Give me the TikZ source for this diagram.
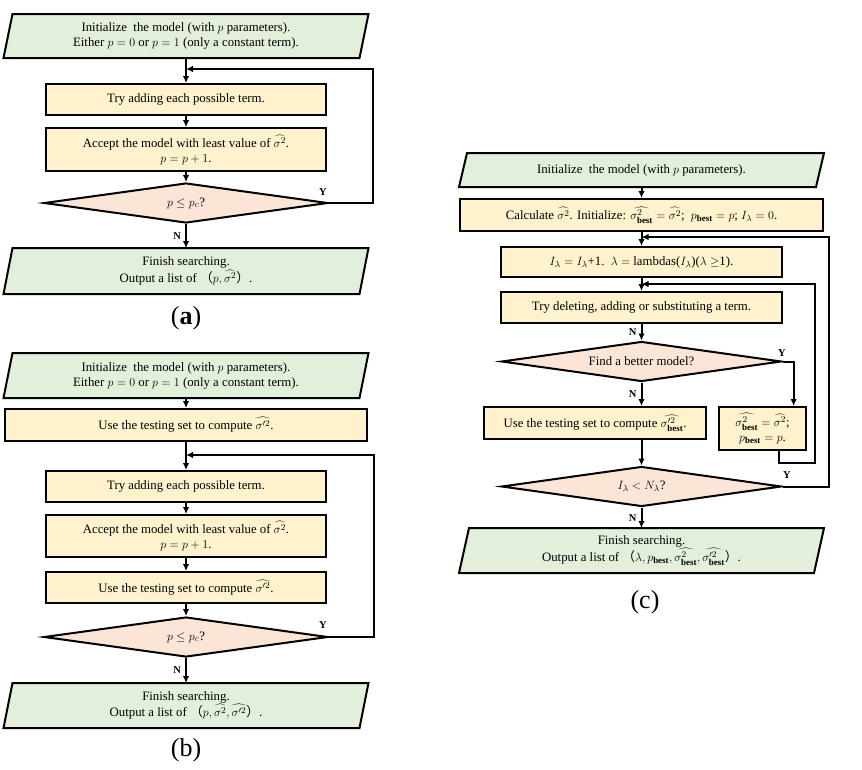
\documentclass[tikz,border=0pt]{standalone}
\usepackage{fontspec}
\setmainfont{Liberation Serif}
\newfontfamily\cjk{Noto Sans CJK SC}
\usetikzlibrary{shapes.geometric,arrows.meta,backgrounds,calc}
\definecolor{gfill}{HTML}{E2EFDA}
\definecolor{yfill}{HTML}{FFF2CC}
\definecolor{pfill}{HTML}{FBE5D6}
\newcommand\boxfont{\fontsize{12.8}{15}\selectfont}
\newcommand\pgram[2]{\begin{scope}[on background layer]\draw[fill=gfill,line width=2pt] ([xshift=#2]#1.north west) -- (#1.north east) -- ([xshift=-#2]#1.south east) -- (#1.south west) -- cycle;\end{scope}}
\newcommand\bst{_{\mathbf{best}}}
\begin{document}
\begin{tikzpicture}[x=1pt,y=-1pt,line width=2pt,
  box/.style={draw,fill=yfill,align=center,inner sep=0pt,font=\boxfont},
  pgn/.style={align=center,inner sep=0pt,font=\boxfont},
  dia/.style={diamond,draw,fill=pfill,inner sep=0pt,aspect=7,font=\boxfont},
  arr/.style={-{Latex[length=7pt,width=6.5pt]}},
  yn/.style={font=\fontsize{10.5}{12}\selectfont\bfseries,inner sep=1pt},
  lab/.style={font=\fontsize{26}{30}\selectfont}]
\useasboundingbox (0,0) rectangle (862,769);
% ---------------- (a)
\node[pgn,minimum width=363,minimum height=42] (a1) at (186,36) {Initialize\ \ the model (with $p$ parameters).\\Either $p=0$ or $p=1$ (only a constant term).};
\pgram{a1}{9}
\node[box,minimum width=280,minimum height=31] (a2) at (186,99.5) {Try adding each possible term.};
\node[box,minimum width=280,minimum height=43] (a3) at (186,149.5) {Accept the model with least value of $\widehat{\sigma^2}$.\\$p=p+1$.};
\node[dia,minimum width=284,minimum height=40] (a4) at (186,203) {$p\le p_c$?};
\node[pgn,minimum width=363,minimum height=44] (a5) at (186,271) {Finish searching.\\Output a list of {\cjk （}$p,\widehat{\sigma^2}${\cjk ）}.};
\pgram{a5}{9}
\node[lab] (la) at (186,318) {(\textbf{a})};
\coordinate (aj) at (186,69);
\draw[arr] (a1.south) -- (a2.north);
\draw[arr] (a2.south) -- (a3.north);
\draw[arr] (a3.south) -- (a4.north);
\draw[arr] (a4.south) -- node[yn,left=3pt] (an) {N} (a5.north);
\draw[arr] (a4.east) -- ++(44,0) |- (aj);
\node[yn] (ay) at (323,192) {Y};
% ---------------- (b)
\node[pgn,minimum width=363,minimum height=43] (b1) at (186,375.5) {Initialize\ \ the model (with $p$ parameters).\\Either $p=0$ or $p=1$ (only a constant term).};
\pgram{b1}{9}
\node[box,minimum width=362,minimum height=32] (b2) at (186,425) {Use the testing set to compute $\widehat{\sigma'^2}$.};
\node[box,minimum width=280,minimum height=31] (b3) at (186,486.5) {Try adding each possible term.};
\node[box,minimum width=280,minimum height=42] (b4) at (186,536) {Accept the model with least value of $\widehat{\sigma^2}$.\\$p=p+1$.};
\node[box,minimum width=280,minimum height=31] (b5) at (186,587.5) {Use the testing set to compute $\widehat{\sigma'^2}$.};
\node[dia,minimum width=284,minimum height=40] (b6) at (186,637) {$p\le p_c$?};
\node[pgn,minimum width=363,minimum height=43] (b7) at (186,705.5) {Finish searching.\\Output a list of {\cjk （}$p,\widehat{\sigma^2},\widehat{\sigma'^2}${\cjk ）}.};
\pgram{b7}{9}
\node[lab] (lb) at (186,750) {(b)};
\coordinate (bj) at (186,455);
\draw[arr] (b1.south) -- (b2.north);
\draw[arr] (b2.south) -- (b3.north);
\draw[arr] (b3.south) -- (b4.north);
\draw[arr] (b4.south) -- (b5.north);
\draw[arr] (b5.south) -- (b6.north);
\draw[arr] (b6.south) -- node[yn,left=3pt] (bn) {N} (b7.north);
\draw[arr] (b6.east) -- ++(45,0) |- (bj);
\node[yn] (by) at (323,625) {Y};
% ---------------- (c)
\node[pgn,minimum width=363,minimum height=32] (c1) at (641.5,170) {Initialize\ \ the model (with $p$ parameters).};
\pgram{c1}{8}
\node[box,minimum width=363,minimum height=32] (c2) at (641.5,215) {Calculate $\widehat{\sigma^2}$. Initialize: $\widehat{\sigma^2\bst}=\widehat{\sigma^2}$;\ \ $p\bst=p$; $I_\lambda=0$.};
\node[box,minimum width=281,minimum height=30] (c3) at (641.5,262) {$I_\lambda=I_\lambda$+1.\ \ $\lambda=$ lambdas($I_\lambda$)($\lambda\ge$1).};
\node[box,minimum width=281,minimum height=31] (c4) at (641.5,307.5) {Try deleting, adding or substituting a term.};
\node[dia,minimum width=280,minimum height=40] (c5) at (641.5,361.5) {Find a better model?};
\node[box,minimum width=222,minimum height=32] (c6) at (595,423) {Use the testing set to compute $\widehat{\sigma'^2\bst}$.};
\node[box,minimum width=87,minimum height=43] (c7) at (762.5,428.5) {$\widehat{\sigma^2\bst}=\widehat{\sigma^2}$;\\$p\bst=p$.};
\node[dia,minimum width=280,minimum height=40] (c8) at (641.5,486.5) {$I_\lambda<N_\lambda$?};
\node[pgn,minimum width=363,minimum height=43] (c9) at (641.5,550.5) {Finish searching.\\Output a list of {\cjk （}$\lambda,p\bst,\widehat{\sigma^2\bst},\widehat{\sigma'^2\bst}${\cjk ）}.};
\pgram{c9}{10}
\node[lab] (lc) at (645,602) {(c)};
\coordinate (cj1) at (641.5,237);
\coordinate (cj2) at (641.5,284);
\draw[arr] (c1.south) -- (c2.north);
\draw[arr] (c2.south) -- (c3.north);
\draw[arr] (c3.south) -- (c4.north);
\draw[arr] (c4.south) -- node[yn,left=3pt] (cn1) {N} (c5.north);
\draw[arr] (c5.south) -- node[yn,left=3pt] (cn2) {N} (c5.south |- c6.north);
\draw[arr] (c6.south -| c8.north) -- (c8.north);
\draw[arr] (c8.south) -- node[yn,left=3pt] (cn3) {N} (c9.north);
\draw[arr] (c5.east) -| ($(c7.north west)!0.85!(c7.north east)$);
\node[yn] (cy1) at (782,353) {Y};
\draw[arr] ($(c7.south west)!0.69!(c7.south east)$) |- ++(36,12) |- (cj2);
\draw[arr] (c8.east) -- ++(46.5,0) |- (cj1);
\node[yn] (cy2) at (787,475) {Y};
\end{tikzpicture}
\end{document}
